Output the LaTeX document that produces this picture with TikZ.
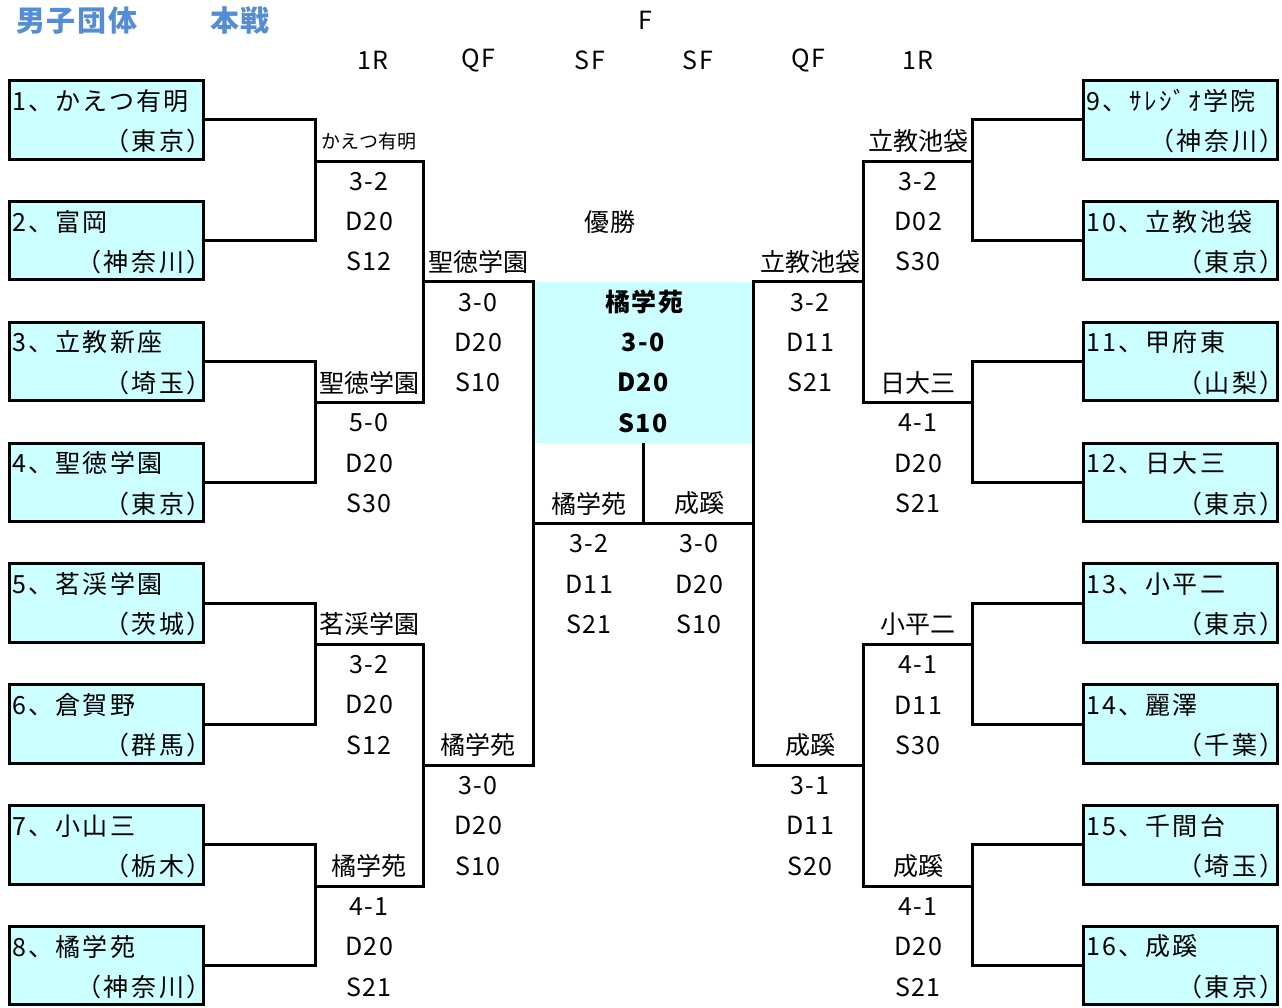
\documentclass[tikz,border=0pt]{standalone}
\usepackage{fontspec}
\setmainfont{Noto Sans CJK JP}[LetterSpace=6]
\newfontfamily\lfont{Noto Sans CJK JP}
\newfontfamily\nfont{Noto Sans CJK JP}[LetterSpace=9]
\newfontfamily\pfont{Noto Sans CJK JP}[RawFeature=+palt,LetterSpace=12]
\definecolor{boxfill}{HTML}{CCFFFF}
\definecolor{hdrblue}{RGB}{84,141,212}
\newcommand\teamL[4]{%
  \node[team] (#1) at (106.2,#2) {};
  \node[txt, anchor=west] (#1a) at (12,#2-0.5) {\nfont #3};
  \node[txt, anchor=east] (#1b) at (200,#2+0.5) {\pfont #4};
}
\newcommand\teamR[4]{%
  \node[team] (#1) at (1180,#2) {};
  \node[txt, anchor=west] (#1a) at (1086,#2-0.5) {\nfont #3};
  \node[txt, anchor=east] (#1b) at (1273,#2+0.5) {\pfont #4};
}
\newcommand\result[7]{%
  \node[txt] (#1l) at (#2,#3+0.5) {\lfont #4};
  \node[txt] (#1a) at (#2,#3+1.5) {#5};
  \node[txt] (#1b) at (#2,#3+2.5) {#6};
  \node[txt] (#1c) at (#2,#3+3.5) {#7};
}
\begin{document}
\begin{tikzpicture}[x=1pt,y=-40.28pt,
  conn/.style={line width=3pt},
  team/.style={draw, line width=3pt, fill=boxfill, minimum width=194pt,
    minimum height=78.5pt, inner sep=0pt, outer sep=0pt, yshift=1pt},
  txt/.style={inner sep=0pt, font=\fontsize{25}{25}\selectfont},
  small/.style={inner sep=0pt, font=\fontsize{19}{19}\selectfont\lfont},
  hdr/.style={inner sep=0pt, text=hdrblue, font=\fontsize{29}{29}\selectfont\bfseries},
  finalbox/.style={fill=boxfill, minimum width=220pt, minimum height=161.12pt,
    inner sep=0pt, outer sep=0pt},
  bold/.style={inner sep=0pt, font=\fontsize{25}{25}\selectfont\bfseries}]
\useasboundingbox (0,0) rectangle (1282,25);

% header
\node[hdr, anchor=west] (title1) at (16,0.5) {男子団体};
\node[hdr, anchor=west] (title2) at (210,0.5) {本戦};
\node[txt] (rF) at (645,0.5) {F};
\node[txt] (r1L) at (373,1.5) {1R};
\node[txt] (rQL) at (478,1.5) {QF};
\node[txt] (rSL) at (590,1.5) {SF};
\node[txt] (rSR) at (698,1.5) {SF};
\node[txt] (rQR) at (808,1.5) {QF};
\node[txt] (r1R) at (918,1.5) {1R};

% final box
\node[finalbox] (final) at (643,9) {};
\node[txt] (champ) at (610,5.5) {優勝};
\node[bold] (fwin) at (644,7.5) {橘学苑};
\node[bold] (fa) at (643,8.5) {3-0};
\node[bold] (fb) at (643,9.5) {D20};
\node[bold] (fc) at (643,10.5) {S10};

% joints
\coordinate (m1) at (315,4);
\coordinate (m2) at (315,10);
\coordinate (m3) at (315,16);
\coordinate (m4) at (315,22);
\coordinate (q1) at (423,7);
\coordinate (q2) at (423,19);
\coordinate (s1) at (533,13);
\coordinate (m5) at (972,4);
\coordinate (m6) at (972,10);
\coordinate (m7) at (972,16);
\coordinate (m8) at (972,22);
\coordinate (q3) at (863,7);
\coordinate (q4) at (863,19);
\coordinate (s2) at (753,13);

% teams
\teamL{t1}{3}{1、かえつ有明}{（東京）}
\teamL{t2}{6}{2、富岡}{（神奈川）}
\teamL{t3}{9}{3、立教新座}{（埼玉）}
\teamL{t4}{12}{4、聖徳学園}{（東京）}
\teamL{t5}{15}{5、茗渓学園}{（茨城）}
\teamL{t6}{18}{6、倉賀野}{（群馬）}
\teamL{t7}{21}{7、小山三}{（栃木）}
\teamL{t8}{24}{8、橘学苑}{（神奈川）}
\teamR{t9}{3}{9、ｻﾚｼﾞｵ学院}{（神奈川）}
\teamR{t10}{6}{10、立教池袋}{（東京）}
\teamR{t11}{9}{11、甲府東}{（山梨）}
\teamR{t12}{12}{12、日大三}{（東京）}
\teamR{t13}{15}{13、小平二}{（東京）}
\teamR{t14}{18}{14、麗澤}{（千葉）}
\teamR{t15}{21}{15、千間台}{（埼玉）}
\teamR{t16}{24}{16、成蹊}{（東京）}

% connectors left
\draw[conn] (t1.east) -| (m1) |- (t2.east);
\draw[conn] (t3.east) -| (m2) |- (t4.east);
\draw[conn] (t5.east) -| (m3) |- (t6.east);
\draw[conn] (t7.east) -| (m4) |- (t8.east);
\draw[conn] (m1) -| (q1) |- (m2);
\draw[conn] (m3) -| (q2) |- (m4);
\draw[conn] (q1) -| (s1) |- (q2);
% connectors right
\draw[conn] (t9.west) -| (m5) |- (t10.west);
\draw[conn] (t11.west) -| (m6) |- (t12.west);
\draw[conn] (t13.west) -| (m7) |- (t14.west);
\draw[conn] (t15.west) -| (m8) |- (t16.west);
\draw[conn] (m5) -| (q3) |- (m6);
\draw[conn] (m7) -| (q4) |- (m8);
\draw[conn] (q3) -| (s2) |- (q4);
% semi-final to final
\draw[conn] (s1) -- (s2);
\draw[conn] (final.south) -- (final.south |- s1);

% results
\node[small] (r1l) at (369,3.5) {かえつ有明};
\node[txt] (r1a) at (369,4.5) {3-2};
\node[txt] (r1b) at (369,5.5) {D20};
\node[txt] (r1c) at (369,6.5) {S12};
\result{r2}{369}{9}{聖徳学園}{5-0}{D20}{S30}
\result{r3}{369}{15}{茗渓学園}{3-2}{D20}{S12}
\result{r4}{369}{21}{橘学苑}{4-1}{D20}{S21}
\result{qa}{478}{6}{聖徳学園}{3-0}{D20}{S10}
\result{qb}{478}{18}{橘学苑}{3-0}{D20}{S10}
\result{sa}{589}{12}{橘学苑}{3-2}{D11}{S21}
\result{sb}{699}{12}{成蹊}{3-0}{D20}{S10}
\result{qc}{810}{6}{立教池袋}{3-2}{D11}{S21}
\result{qd}{810}{18}{成蹊}{3-1}{D11}{S20}
\result{r5}{918}{3}{立教池袋}{3-2}{D02}{S30}
\result{r6}{918}{9}{日大三}{4-1}{D20}{S21}
\result{r7}{918}{15}{小平二}{4-1}{D11}{S30}
\result{r8}{918}{21}{成蹊}{4-1}{D20}{S21}
\end{tikzpicture}
\end{document}
